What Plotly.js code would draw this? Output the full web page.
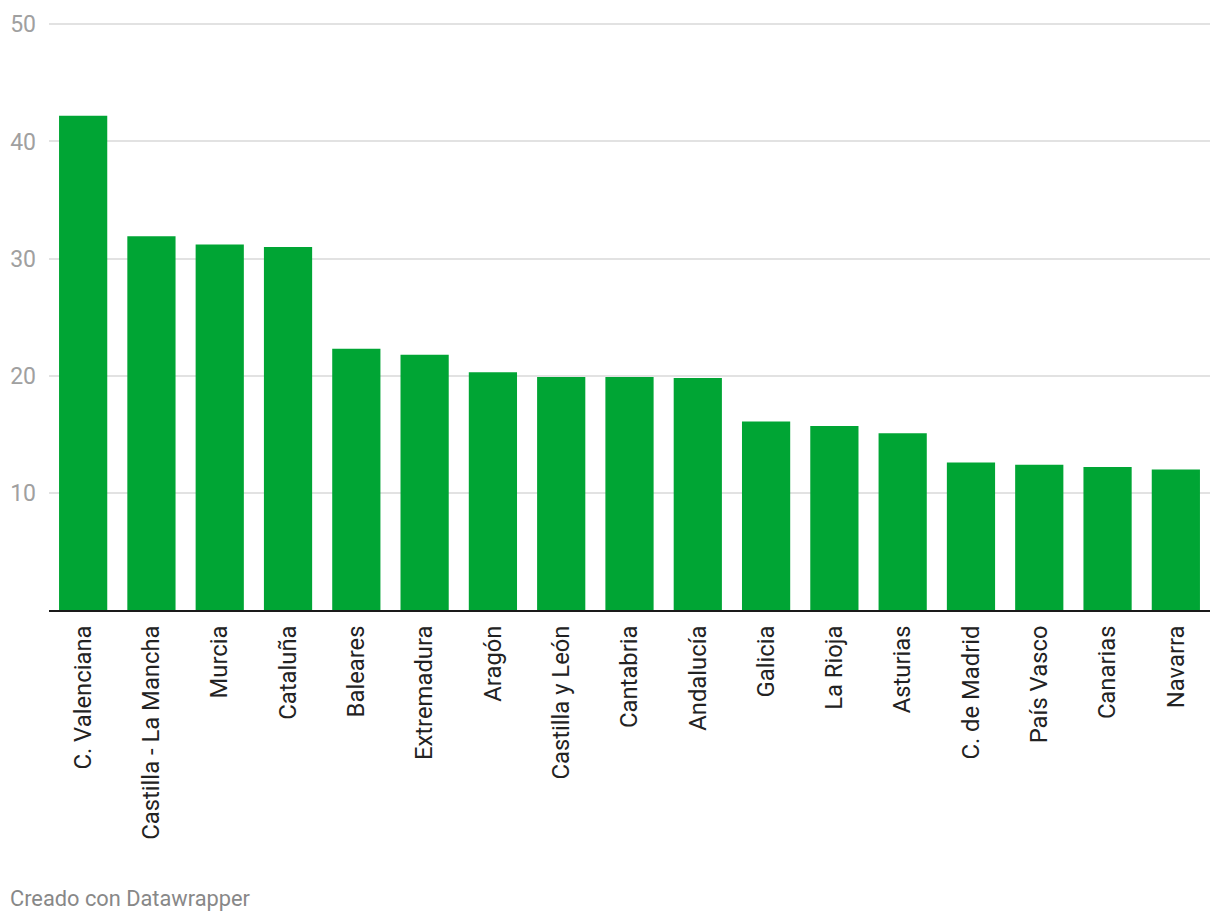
<!DOCTYPE html>
<html>
<head>
<meta charset="utf-8">
<script src="https://cdn.plot.ly/plotly-3.0.1.min.js"></script>
<style>
html,body{margin:0;padding:0;background:#fff;}
#chart{width:1220px;height:922px;}
</style>
</head>
<body>
<div id="chart"></div>
<script>
const regions = ["C. Valenciana","Castilla - La Mancha","Murcia","Cataluña","Baleares","Extremadura","Aragón","Castilla y León","Cantabria","Andalucía","Galicia","La Rioja","Asturias","C. de Madrid","País Vasco","Canarias","Navarra"];
const values = [42.2,31.9,31.2,31.0,22.3,21.8,20.3,19.9,19.9,19.8,16.1,15.7,15.1,12.6,12.4,12.2,12.0];
const yTicks = [10,20,30,40,50];
const footer = "Creado con Datawrapper";

const trace = {
  type: "bar",
  x: regions,
  y: values,
  marker: {color: "#00a534"},
  hoverinfo: "x+y"
};

const layout = {
  width: 1220,
  height: 922,
  margin: {l: 49, r: 10, t: 22, b: 312},
  paper_bgcolor: "#fff",
  plot_bgcolor: "#fff",
  bargap: 0.294,
  showlegend: false,
  font: {family: "Roboto, sans-serif", color: "#333"},
  xaxis: {
    type: "category",
    tickangle: -90,
    tickfont: {family: "Roboto, sans-serif", size: 23.8, color: "#222"},
    showline: true,
    linecolor: "#1a1a1a",
    linewidth: 2,
    showgrid: false,
    ticks: "",
    ticklabelstandoff: 4,
    fixedrange: true
  },
  yaxis: {
    range: [0, 50.2],
    tickvals: yTicks,
    ticktext: yTicks.map(String),
    tickfont: {family: "Roboto, sans-serif", size: 23, color: "#a0a0a0"},
    showgrid: true,
    gridcolor: "#e2e2e2",
    gridwidth: 2,
    zeroline: false,
    showline: false,
    ticks: "",
    ticklabelstandoff: 12,
    fixedrange: true
  },
  annotations: [{
    text: footer,
    xref: "paper", yref: "paper",
    x: -41/1161, y: -(898-610)/588,
    xanchor: "left", yanchor: "middle",
    showarrow: false,
    font: {family: "Roboto, sans-serif", size: 21.8, color: "#888"}
  }]
};

Plotly.newPlot("chart", [trace], layout, {displayModeBar: false, staticPlot: true});
</script>
</body>
</html>
